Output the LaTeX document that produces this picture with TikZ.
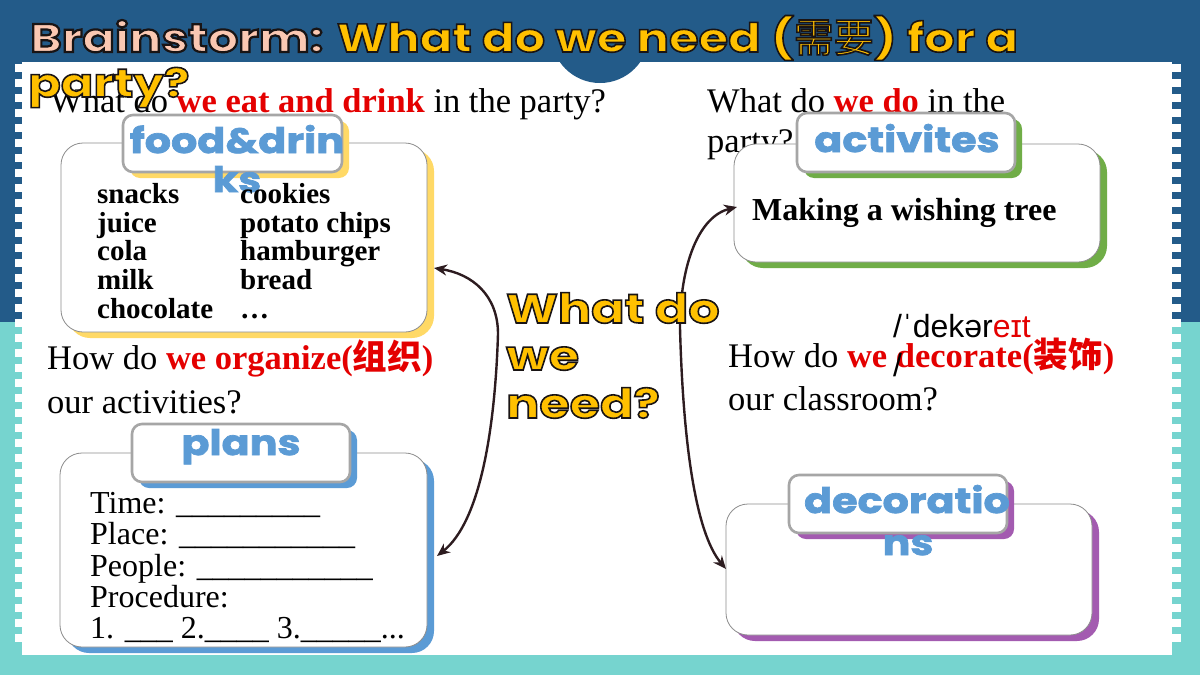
\documentclass[tikz,border=0pt]{standalone}
\usepackage{fontspec}
\setmainfont{Liberation Serif}
\newfontfamily\heavy{Poppins}[FakeStretch=1.2]
\newfontfamily\heavyb{Poppins}[FakeStretch=1.18, FakeBold=2]
\newfontfamily\cjk{Noto Sans CJK SC}
\newfontfamily\ipa{Liberation Sans}
\usetikzlibrary{arrows.meta,shadows}
\definecolor{bgblue}{RGB}{35,91,137}
\definecolor{bgteal}{RGB}{118,212,207}
\definecolor{peach}{RGB}{251,200,178}
\definecolor{ttyellow}{RGB}{255,192,0}
\definecolor{qred}{RGB}{228,0,0}
\definecolor{tagblue}{RGB}{91,155,213}
\definecolor{boxgray}{RGB}{140,140,140}
\definecolor{taggray}{RGB}{166,166,166}
\definecolor{shYellow}{RGB}{255,217,102}
\definecolor{shGreen}{RGB}{112,173,71}
\definecolor{shBlue}{RGB}{91,155,213}
\definecolor{shPurple}{RGB}{163,91,176}
\definecolor{arrowdark}{RGB}{45,28,32}
\newcommand\outl[2]{\special{pdf:literal 2 Tr #1 w 0.1 0.08 0.08 RG}#2\special{pdf:literal 0 Tr}}
\newcommand\rb[1]{\textbf{\color{qred}#1}}
\begin{document}
\begin{tikzpicture}[x=1pt,y=-1pt,
  mainbox/.style={draw=boxgray, line width=0.8pt, fill=white, rounded corners=22pt, inner sep=0pt},
  tagbox/.style={draw=taggray, line width=2.6pt, fill=white, rounded corners=10pt, inner sep=0pt},
  shadowc/.style={drop shadow={shadow xshift=7pt, shadow yshift=-6pt, fill=#1, opacity=1}},
  taglbl/.style={text=tagblue, font=\heavyb\bfseries\fontsize{35}{35}\selectfont, inner sep=0pt, anchor=base},
  qtext/.style={font=\fontsize{34.5}{40}\selectfont, inner sep=0pt, anchor=base west},
  fitem/.style={font=\bfseries\fontsize{29}{29}\selectfont, inner sep=0pt, anchor=base west},
  pline/.style={font=\fontsize{32}{32}\selectfont, inner sep=0pt, anchor=base west},
  bigy/.style={font=\heavy\bfseries\fontsize{41}{41}\selectfont, inner sep=0pt, anchor=base west},
  ttl/.style={font=\heavy\bfseries\fontsize{40}{40}\selectfont, inner sep=0pt, anchor=base west},
  conn/.style={draw=arrowdark, line width=2.4pt, -{Stealth[length=13pt,width=11pt]}}
]
\useasboundingbox (0,0) rectangle (1200,675);
% background
\fill[bgblue] (0,0) rectangle (1200,322);
\fill[bgteal] (0,322) rectangle (1200,675);
\fill[white] (22,62) rectangle (1172,655);
\foreach \yy in {64,79,...,646} {
  \fill[white] (15,\yy) rectangle (22,{\yy+8});
  \fill[white] (1172,\yy) rectangle (1181,{\yy+8});
}
\fill[bgblue] (600,34) circle[radius=49];

% questions
\node[qtext] (q1) at (50,112) {What do \rb{we eat and drink} in the party?};
\node[qtext] (q2a) at (707,112) {What do \rb{we do} in the};
\node[qtext] (q2b) at (707,152) {party?};
\node[qtext] (q3a) at (47,369) {How do \rb{we organize({\cjk 组织})}};
\node[qtext] (q3b) at (47,413) {our activities?};
\node[qtext] (q4a) at (728,367) {How do \rb{we decorate({\cjk 装饰})}};
\node[qtext] (q4b) at (728,410) {our classroom?};
\node[font=\ipa\fontsize{32}{32}\selectfont, inner sep=0pt, anchor=base west] (ipa1) at (893,337) {/ˈdekər{\color{qred}eɪt}};
\node[font=\ipa\fontsize{32}{32}\selectfont, inner sep=0pt, anchor=base west] (ipa2) at (893,376) {/};

% boxes
\node[mainbox, shadowc=shYellow, minimum width=366pt, minimum height=189pt] (food) at (244,237.5) {};
\node[tagbox, shadowc=shYellow, minimum width=219pt, minimum height=57pt] (foodtag) at (232.5,143.5) {};
\node[mainbox, shadowc=shGreen, minimum width=366pt, minimum height=118pt] (act) at (917,203) {};
\node[tagbox, shadowc=shGreen, minimum width=218pt, minimum height=59pt] (acttag) at (906,142.5) {};
\node[mainbox, shadowc=shBlue, minimum width=367pt, minimum height=194pt] (plans) at (243.5,550) {};
\node[tagbox, shadowc=shBlue, minimum width=218pt, minimum height=58pt] (planstag) at (241,453) {};
\node[mainbox, shadowc=shPurple, minimum width=366pt, minimum height=131pt] (dec) at (909,569.5) {};
\node[tagbox, shadowc=shPurple, minimum width=218pt, minimum height=58pt] (dectag) at (898,504) {};

% tag labels
\node[taglbl] (foodl1) at (237,153) {food\&drin};
\node[taglbl] (foodl2) at (237,192) {ks};
\node[taglbl] (actl) at (907,152) {activites};
\node[taglbl] (plansl) at (241,455) {plans};
\node[taglbl] (decl1) at (907,513) {decoratio};
\node[taglbl] (decl2) at (908,555) {ns};

% food items
\node[fitem] (f1) at (97,203) {snacks};
\node[fitem] (f2) at (97,232) {juice};
\node[fitem] (f3) at (97,260) {cola};
\node[fitem] (f4) at (97,289) {milk};
\node[fitem] (f5) at (97,318) {chocolate};
\node[fitem] (g1) at (240,203) {cookies};
\node[fitem] (g2) at (240,232) {potato chips};
\node[fitem] (g3) at (240,260) {hamburger};
\node[fitem] (g4) at (240,289) {bread};
\node[fitem] (g5) at (240,318) {…};

% activities
\node[font=\bfseries\fontsize{32}{32}\selectfont, inner sep=0pt, anchor=base west] (mk) at (752,220) {Making a wishing tree};

% plans
\node[pline] (p1) at (90,513) {Time: \_\_\_\_\_\_\_\_\_};
\node[pline] (p2) at (90,544) {Place: \_\_\_\_\_\_\_\_\_\_\_};
\node[pline] (p3) at (90,576) {People: \_\_\_\_\_\_\_\_\_\_\_};
\node[pline] (p4) at (90,607) {Procedure:};
\node[pline] (p5) at (90,638) {1. \_\_\_ 2.\_\_\_\_ 3.\_\_\_\_\_...};

% connectors
\coordinate (hubL) at (498,334);
\coordinate (hubR) at (680,328);
\coordinate (foodIn) at (434,268);
\coordinate (plansIn) at (437,556);
\coordinate (actIn) at (737,207);
\coordinate (decIn) at (726,569);
\draw[conn] (hubL) .. controls (498,295) and (472,274) .. (foodIn);
\draw[conn] (hubL) .. controls (495,430) and (480,522) .. (plansIn);
\draw[conn] (hubR) .. controls (680,262) and (700,216) .. (actIn);
\draw[conn] (hubR) .. controls (683,440) and (695,532) .. (decIn);

% centre question
\node[bigy] (c1) at (506,323) {\color{ttyellow}\outl{1.6}{What do}};
\node[bigy] (c2) at (506,370) {\color{ttyellow}\outl{1.6}{we}};
\node[bigy] (c3) at (506,418) {\color{ttyellow}\outl{1.6}{need?}};

% title
\node[ttl] (t1) at (30,52) {{\color{peach}\outl{2.2}{Brainstorm:}} {\color{ttyellow}\outl{1.6}{What do we need ({\cjk\mdseries 需要}) for a}}};
\node[ttl] (t2) at (28,97) {\color{ttyellow}\outl{1.6}{party?}};
\end{tikzpicture}
\end{document}
